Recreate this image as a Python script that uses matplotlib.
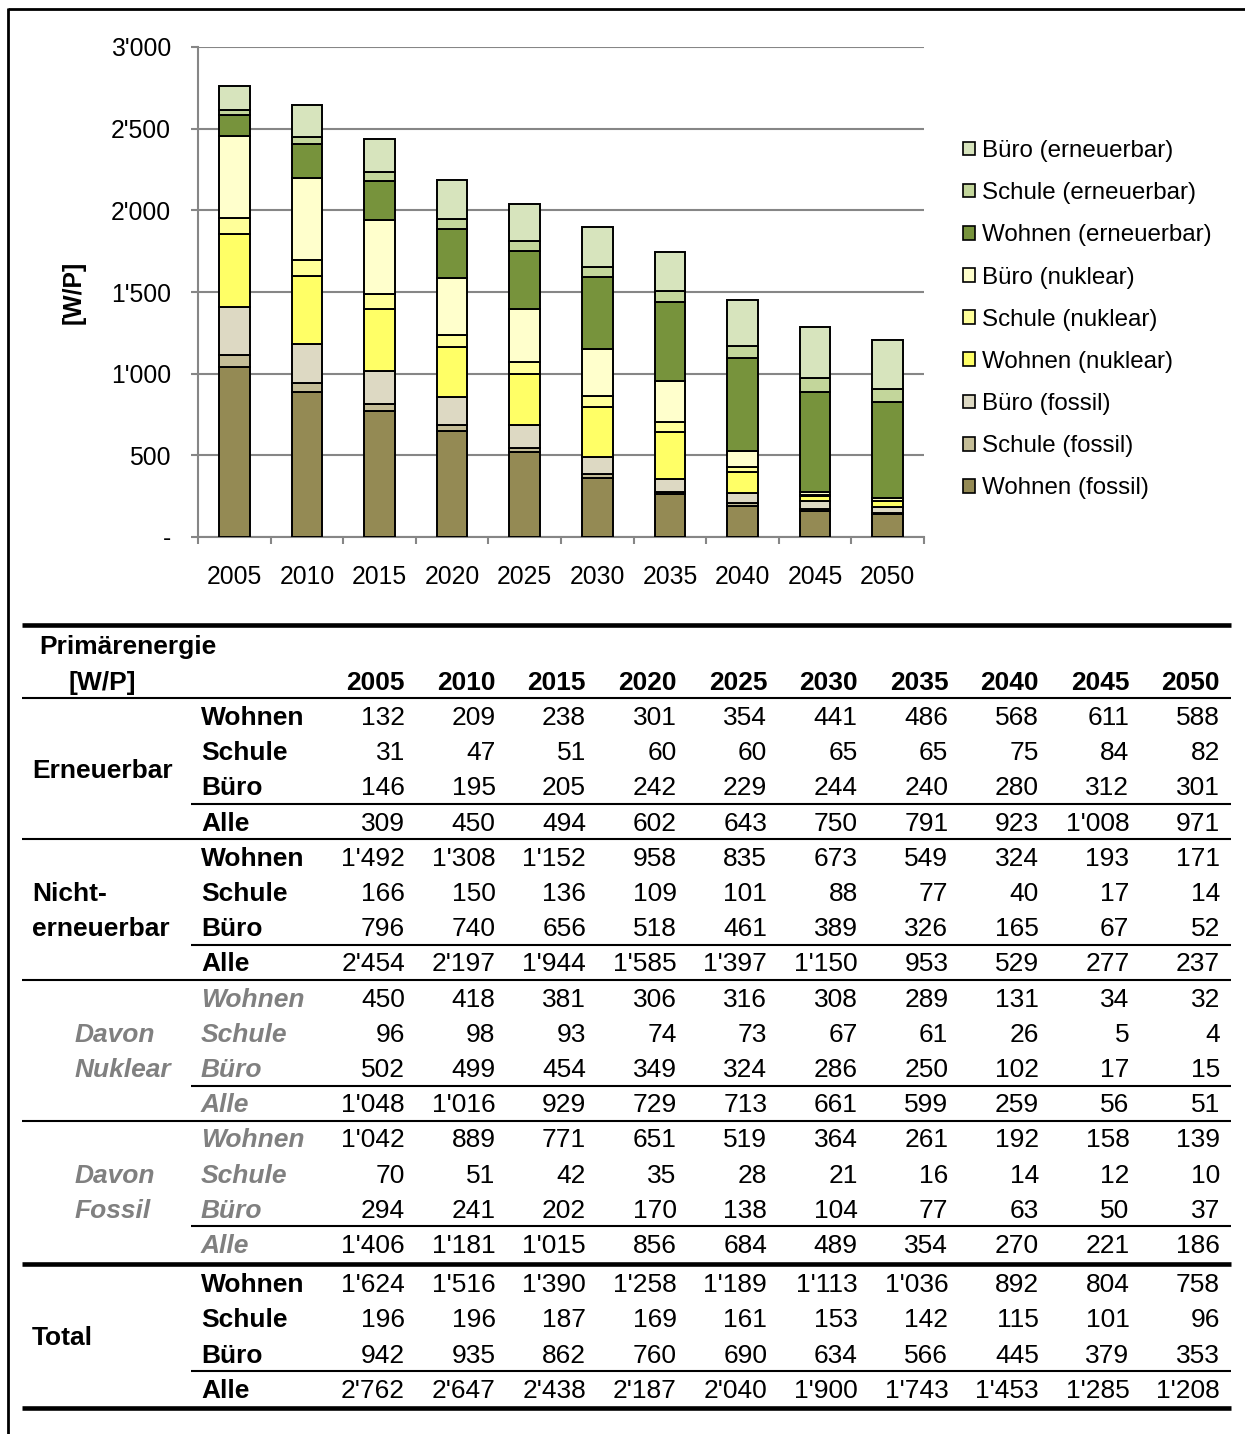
import matplotlib
matplotlib.use("Agg")
import matplotlib.pyplot as plt
from matplotlib.patches import Patch
import numpy as np

plt.rcParams['font.family'] = ['Liberation Sans', 'DejaVu Sans']

years = ["2005", "2010", "2015", "2020", "2025", "2030", "2035", "2040", "2045", "2050"]

ern_wohnen = [132, 209, 238, 301, 354, 441, 486, 568, 611, 588]
ern_schule = [31, 47, 51, 60, 60, 65, 65, 75, 84, 82]
ern_buero = [146, 195, 205, 242, 229, 244, 240, 280, 312, 301]
ern_alle = [309, 450, 494, 602, 643, 750, 791, 923, 1008, 971]

ne_wohnen = [1492, 1308, 1152, 958, 835, 673, 549, 324, 193, 171]
ne_schule = [166, 150, 136, 109, 101, 88, 77, 40, 17, 14]
ne_buero = [796, 740, 656, 518, 461, 389, 326, 165, 67, 52]
ne_alle = [2454, 2197, 1944, 1585, 1397, 1150, 953, 529, 277, 237]

nuk_wohnen = [450, 418, 381, 306, 316, 308, 289, 131, 34, 32]
nuk_schule = [96, 98, 93, 74, 73, 67, 61, 26, 5, 4]
nuk_buero = [502, 499, 454, 349, 324, 286, 250, 102, 17, 15]
nuk_alle = [1048, 1016, 929, 729, 713, 661, 599, 259, 56, 51]

fos_wohnen = [1042, 889, 771, 651, 519, 364, 261, 192, 158, 139]
fos_schule = [70, 51, 42, 35, 28, 21, 16, 14, 12, 10]
fos_buero = [294, 241, 202, 170, 138, 104, 77, 63, 50, 37]
fos_alle = [1406, 1181, 1015, 856, 684, 489, 354, 270, 221, 186]

tot_wohnen = [1624, 1516, 1390, 1258, 1189, 1113, 1036, 892, 804, 758]
tot_schule = [196, 196, 187, 169, 161, 153, 142, 115, 101, 96]
tot_buero = [942, 935, 862, 760, 690, 634, 566, 445, 379, 353]
tot_alle = [2762, 2647, 2438, 2187, 2040, 1900, 1743, 1453, 1285, 1208]

series_labels = ["Wohnen (fossil)", "Schule (fossil)", "Büro (fossil)",
                 "Wohnen (nuklear)", "Schule (nuklear)", "Büro (nuklear)",
                 "Wohnen (erneuerbar)", "Schule (erneuerbar)", "Büro (erneuerbar)"]
series_values = [fos_wohnen, fos_schule, fos_buero,
                 nuk_wohnen, nuk_schule, nuk_buero,
                 ern_wohnen, ern_schule, ern_buero]
series_colors = ["#948A54", "#C4BD97", "#DDD9C3",
                 "#FFFF66", "#FFFF99", "#FFFFCC",
                 "#77933C", "#C3D69B", "#D7E4BD"]

W, H = 1245, 1434
fig = plt.figure(figsize=(W / 100, H / 100), dpi=100)

# overlay axes in pixel coordinates for frame and table
ov = fig.add_axes([0, 0, 1, 1])
ov.set_xlim(0, W)
ov.set_ylim(H, 0)
ov.axis('off')

# outer frame (top and left)
ov.plot([8, W], [9, 9], color='black', lw=2, solid_capstyle='butt')
ov.plot([8, 8], [8, H], color='black', lw=2, solid_capstyle='butt')

# chart axes
ax = fig.add_axes([198 / W, (H - 537) / H, 726 / W, 490 / H])
x = np.arange(len(years))
bottom = np.zeros(len(years))
handles = []
for lab, vals, col in zip(series_labels, series_values, series_colors):
    v = np.array(vals, dtype=float)
    ax.bar(x, v, 0.42, bottom=bottom, color=col, edgecolor='black', linewidth=1.4, zorder=3)
    bottom += v
    handles.append(Patch(facecolor=col, edgecolor='black', linewidth=1.2, label=lab))

gray = '#868686'
cfs = 17.8
ax.set_xlim(-0.5, len(years) - 0.5)
ax.set_ylim(0, 3000)
ax.set_yticks(np.arange(0, 3001, 500))
ax.set_yticklabels(["-" if v == 0 else f"{v:,}".replace(",", "'") for v in range(0, 3001, 500)])
ax.yaxis.grid(True, color=gray, lw=1.5)
ax.set_axisbelow(True)
ax.set_xticks(x)
ax.set_xticklabels(years)
ax.set_xticks(np.arange(-0.5, len(years)), minor=True)
ax.tick_params(axis='x', which='major', length=0, pad=20.5, labelsize=cfs)
ax.tick_params(axis='x', which='minor', length=5, width=1.5, color=gray)
ax.tick_params(axis='y', which='major', length=5, width=1.5, color=gray, pad=14.5, labelsize=cfs)
for s in ['top', 'right']:
    ax.spines[s].set_visible(False)
for s in ['left', 'bottom']:
    ax.spines[s].set_color(gray)
    ax.spines[s].set_linewidth(1.5)
ax.text(-0.172, 0.5, "[W/P]", rotation=90, ha='center', va='center',
        transform=ax.transAxes, fontsize=cfs, fontweight='bold')

leg = fig.legend(handles=handles[::-1], loc='upper left',
                 bbox_to_anchor=(963 / W, 1 - 140 / H), bbox_transform=fig.transFigure,
                 frameon=False, fontsize=17.4, handlelength=0.5, handleheight=0.5,
                 handletextpad=0.3, labelspacing=0.835, borderpad=0, borderaxespad=0)

# ---------- table ----------
def fmt(v):
    return f"{v:,}".replace(",", "'")

fs = 19
row0 = 718
step = 35.2
def row_y(i):
    return row0 + i * step + (4 if i >= 16 else 0)

col_right = [405 + k * 90.55 for k in range(len(years))]
x_full, x_part, x_end = 22, 191, 1231

# header
ov.plot([x_full, x_end], [625, 625], color='black', lw=3.3, solid_capstyle='butt')
ov.text(39, 647, "Primärenergie", fontsize=fs, fontweight='bold', va='center', ha='left')
ov.text(102, 683, "[W/P]", fontsize=fs, fontweight='bold', va='center', ha='center')
for k, yr in enumerate(years):
    ov.text(col_right[k], 683, yr, fontsize=fs, fontweight='bold', va='center', ha='right')
ov.plot([x_full, x_end], [698, 698], color='black', lw=1.5, solid_capstyle='butt')

groups = [
    (["Erneuerbar"], 32, [ern_wohnen, ern_schule, ern_buero, ern_alle], False),
    (["Nicht-", "erneuerbar"], 32, [ne_wohnen, ne_schule, ne_buero, ne_alle], False),
    (["Davon", "Nuklear"], 75, [nuk_wohnen, nuk_schule, nuk_buero, nuk_alle], True),
    (["Davon", "Fossil"], 75, [fos_wohnen, fos_schule, fos_buero, fos_alle], True),
    (["Total"], 32, [tot_wohnen, tot_schule, tot_buero, tot_alle], False),
]
sub_labels = ["Wohnen", "Schule", "Büro", "Alle"]
for g, (glab, gx, rows, italic) in enumerate(groups):
    base = g * 4
    lab_color = '#808080' if italic else 'black'
    lab_style = 'italic' if italic else 'normal'
    ys = [row_y(base + r) for r in range(4)]
    if len(glab) == 1:
        ov.text(gx, (ys[0] + ys[3]) / 2, glab[0], fontsize=fs, fontweight='bold',
                style=lab_style, color=lab_color, va='center', ha='left')
    else:
        ov.text(gx, ys[1], glab[0], fontsize=fs, fontweight='bold',
                style=lab_style, color=lab_color, va='center', ha='left')
        ov.text(gx, ys[2], glab[1], fontsize=fs, fontweight='bold',
                style=lab_style, color=lab_color, va='center', ha='left')
    for r in range(4):
        ov.text(201, ys[r], sub_labels[r], fontsize=fs, fontweight='bold',
                style=lab_style, color=lab_color, va='center', ha='left')
        for k, v in enumerate(rows[r]):
            ov.text(col_right[k], ys[r], fmt(v), fontsize=fs, va='center', ha='right')
    # partial line between Büro and Alle
    yl = (ys[2] + ys[3]) / 2 - 2
    ov.plot([x_part, x_end], [yl, yl], color='black', lw=1.5, solid_capstyle='butt')
    # group bottom line
    if g < len(groups) - 1:
        yb = (ys[3] + row_y(base + 4)) / 2 - 2
        lw = 3.3 if g == len(groups) - 2 else 1.5
        ov.plot([x_full, x_end], [yb, yb], color='black', lw=lw, solid_capstyle='butt')
    else:
        yb = ys[3] + 17
        ov.plot([x_full, x_end], [yb, yb], color='black', lw=3.3, solid_capstyle='butt')

fig.savefig("out.png", dpi=100)
